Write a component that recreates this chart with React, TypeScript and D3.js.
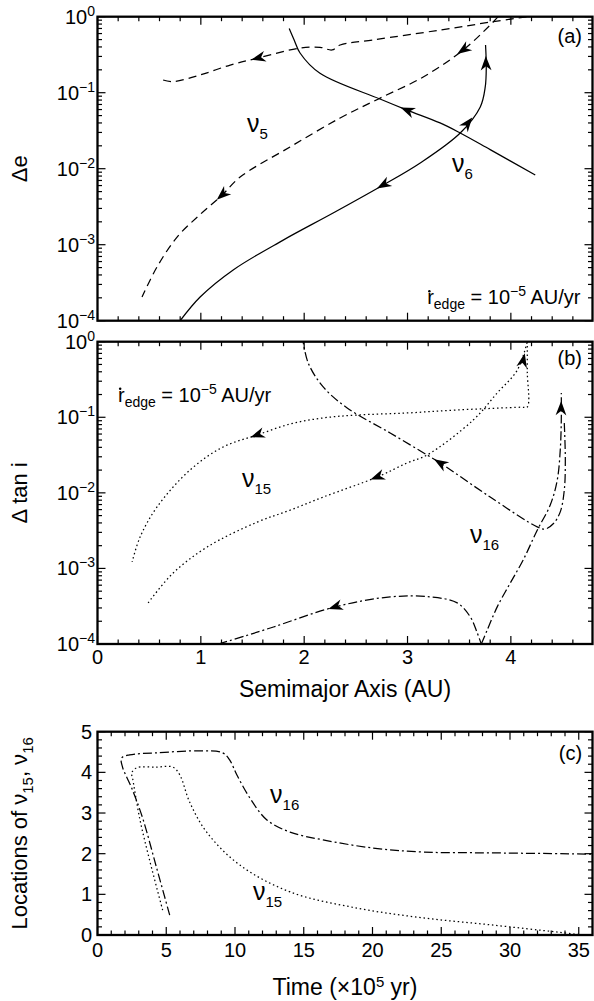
import React from 'react';
import * as d3 from 'd3';

// ---------------- DATA ----------------
// Panel (a): Δe vs semimajor axis (AU)
// ν5 (dashed) – upper branch
const nu5UpperX = [0.635, 0.732, 0.993, 1.284, 1.555, 1.96, 2.154, 2.27, 2.348, 2.668, 3.317, 3.83, 4.16];
const nu5UpperY = [0.147, 0.14, 0.171, 0.231, 0.286, 0.387, 0.396, 0.365, 0.424, 0.494, 0.668, 0.86, 1.0];
// ν5 (dashed) – descending branch
const nu5LowerX = [3.877, 3.8, 3.539, 3.152, 2.736, 2.348, 1.863, 1.38, 1.206, 0.993, 0.77, 0.576, 0.431];
const nu5LowerY = [1.0, 0.778, 0.365, 0.161, 0.085, 0.0465, 0.0193, 0.00776, 4.5e-3, 2.5e-3, 1.26e-3, 5.1e-4, 2.05e-4];
// ν6 (solid) – branch from top
const nu6TopX = [1.855, 1.903, 1.96, 2.153, 2.734, 2.996, 3.315, 3.51, 3.8, 4.236];
const nu6TopY = [0.7, 0.494, 0.333, 0.18, 0.0826, 0.059, 0.04, 0.0295, 0.0178, 0.00826];
// ν6 (solid) – rising branch
const nu6RiseX = [0.8, 0.993, 1.313, 1.797, 2.28, 2.765, 3.123, 3.51, 3.704, 3.752, 3.762, 3.755];
const nu6RiseY = [1e-4, 2.05e-4, 4.66e-4, 1.15e-3, 2.61e-3, 6.1e-3, 0.0119, 0.0295, 0.065, 0.119, 0.218, 0.424];

// Panel (b): Δ tan i vs semimajor axis (AU)
// ν15 (dotted)
const nu15BackX = [4.159, 4.159, 4.159, 4.1, 3.481, 2.997, 2.513, 2.184, 1.864, 1.545, 1.216, 0.896, 0.576, 0.412, 0.335];
const nu15BackY = [1.0, 0.4, 0.137, 0.136, 0.125, 0.114, 0.107, 0.098, 0.0815, 0.0583, 0.0405, 0.0201, 6.5e-3, 2.6e-3, 1.22e-3];
const nu15RiseX = [0.49, 0.732, 1.061, 1.545, 1.864, 2.184, 2.707, 2.997, 3.19, 3.636, 3.868, 4.062, 4.159];
const nu15RiseY = [3.5e-4, 8.7e-4, 1.92e-3, 4.1e-3, 5.9e-3, 8.8e-3, 0.0162, 0.0249, 0.0317, 0.092, 0.21, 0.42, 1.0];
// ν16 (dash-dot)
const nu16LowX = [1.17, 1.43, 1.703, 2.3, 2.832, 3.219, 3.481, 3.607, 3.675, 3.714];
const nu16LowY = [1e-4, 1.28e-4, 1.68e-4, 3.1e-4, 4.2e-4, 4.2e-4, 3.5e-4, 2.29e-4, 1.4e-4, 1e-4];
const nu16RiseX = [3.714, 3.772, 3.868, 3.994, 4.12, 4.255, 4.381, 4.449, 4.478, 4.488, 4.488];
const nu16RiseY = [1e-4, 1.54e-4, 3.1e-4, 6.4e-4, 1.3e-3, 3.2e-3, 6.9e-3, 0.0148, 0.037, 0.092, 0.209];
const nu16BackX = [4.517, 4.527, 4.517, 4.478, 4.41, 4.333, 4.255, 3.8, 3.316, 3.19, 2.832, 2.416, 2.184, 2.039, 1.99];
const nu16BackY = [0.084, 0.0273, 0.0109, 5.6e-3, 3.9e-3, 3.33e-3, 3.55e-3, 8.8e-3, 0.0249, 0.0317, 0.062, 0.133, 0.252, 0.523, 1.0];

// Panel (c): locations vs time (×10^5 yr)
const locNu16T = [5.25, 4.3, 3.28, 2.48, 1.82, 1.75, 2.33, 4.3, 7.43, 9.11, 9.62, 10.13, 11.08, 12.32, 14.0, 16.4, 20.0, 23.7, 28.6, 36.0];
const locNu16A = [0.49, 1.65, 2.88, 3.62, 4.13, 4.35, 4.43, 4.48, 4.53, 4.48, 4.3, 3.94, 3.37, 2.83, 2.53, 2.34, 2.14, 2.04, 2.02, 1.99];
const locNu15T = [4.74, 3.79, 3.06, 2.55, 2.48, 2.84, 4.3, 5.47, 5.98, 6.7, 7.94, 10.35, 14.0, 18.9, 23.7, 28.6, 33.5, 35.35];
const locNu15A = [0.61, 1.84, 2.88, 3.86, 3.98, 4.11, 4.13, 4.13, 3.94, 3.27, 2.53, 1.72, 1.06, 0.66, 0.42, 0.25, 0.07, 0.0];

// arrows: [x, y, towardX, towardY] in data units
const arrowsA = [
  [2.995, 0.059, 2.734, 0.0826],
  [2.763, 6.1e-3, 2.28, 2.61e-3],
  [3.585, 0.04, 3.704, 0.065],
  [3.759, 0.246, 3.755, 0.424],
  [1.553, 0.286, 1.284, 0.231],
  [3.537, 0.365, 3.152, 0.161],
  [1.205, 4.5e-3, 0.993, 2.5e-3],
];
const arrowsB = [
  [1.544, 0.0583, 1.216, 0.0405],
  [2.705, 0.0162, 2.184, 8.8e-3],
  [4.12, 0.573, 4.159, 1.0],
  [3.315, 0.0249, 2.832, 0.062],
  [4.486, 0.133, 4.488, 0.209],
  [2.298, 3.1e-4, 1.703, 1.68e-4],
];

// ticks
const logMajor = [1e-4, 1e-3, 1e-2, 1e-1, 1];
const logLabels = ['−4', '−3', '−2', '−1', '0'];
const auMajor = [0, 1, 2, 3, 4];
const timeMajor = [0, 5, 10, 15, 20, 25, 30, 35];
const locMajor = [0, 1, 2, 3, 4, 5];

// ---------------- LAYOUT ----------------
const W = 594, H = 1001;
const XL = 97.5, XR = 592.5;
const A_TOP = 16.7, A_BOT = 320.7;
const B_TOP = 341.7, B_BOT = 644;
const C_TOP = 731.7, C_BOT = 935;
const FONT = 'Liberation Sans, Arial, Helvetica, sans-serif';

const xAU = d3.scaleLinear().domain([0, 4.79]).range([XL, XR]);
const xT = d3.scaleLinear().domain([0, 36]).range([XL, XR]);
const yA = d3.scaleLog().domain([1e-4, 1]).range([A_BOT, A_TOP]);
const yB = d3.scaleLog().domain([1e-4, 1]).range([B_BOT, B_TOP]);
const yC = d3.scaleLinear().domain([0, 5]).range([C_BOT, C_TOP]);

const DASHED = '8,5';
const DOTTED = '1.5,2.8';
const DASHDOT = '9,3,2,3';

function curvePath(xs: number[], ys: number[], sx: any, sy: any) {
  const pts: [number, number][] = xs.map((x, i) => [sx(x), sy(ys[i])]);
  return d3.line().curve(d3.curveCatmullRom.alpha(0.5))(pts) || '';
}

function Arrow({ a, sx, sy }: any) {
  const px = sx(a[0]), py = sy(a[1]);
  const qx = sx(a[2]), qy = sy(a[3]);
  const ang = (Math.atan2(qy - py, qx - px) * 180) / Math.PI;
  return (
    <path
      d="M7,0 L-7.5,-5.4 L-3.2,0 L-7.5,5.4 Z"
      fill="#000"
      stroke="none"
      transform={`translate(${px},${py}) rotate(${ang})`}
    />
  );
}

function logMinor() {
  const out: number[] = [];
  for (let k = -4; k < 0; k++) for (let m = 2; m <= 9; m++) out.push(m * Math.pow(10, k));
  return out;
}

function FrameTicks({ top, bot, xs, xMajor, xMinor, ys, yMajor, yMinor }: any) {
  const lines: any[] = [];
  const MJ = 8, MN = 4.5;
  xMajor.forEach((v: number, i: number) => {
    const x = xs(v);
    lines.push(<line key={'xb' + i} x1={x} x2={x} y1={bot} y2={bot - MJ} />);
    lines.push(<line key={'xt' + i} x1={x} x2={x} y1={top} y2={top + MJ} />);
  });
  xMinor.forEach((v: number, i: number) => {
    const x = xs(v);
    lines.push(<line key={'xbm' + i} x1={x} x2={x} y1={bot} y2={bot - MN} />);
    lines.push(<line key={'xtm' + i} x1={x} x2={x} y1={top} y2={top + MN} />);
  });
  yMajor.forEach((v: number, i: number) => {
    const y = ys(v);
    lines.push(<line key={'yl' + i} x1={XL} x2={XL + MJ} y1={y} y2={y} />);
    lines.push(<line key={'yr' + i} x1={XR} x2={XR - MJ} y1={y} y2={y} />);
  });
  yMinor.forEach((v: number, i: number) => {
    const y = ys(v);
    lines.push(<line key={'ylm' + i} x1={XL} x2={XL + MN} y1={y} y2={y} />);
    lines.push(<line key={'yrm' + i} x1={XR} x2={XR - MN} y1={y} y2={y} />);
  });
  return (
    <g>
      <g stroke="#000" strokeWidth={1.2}>{lines}</g>
      <rect x={XL} y={top} width={XR - XL} height={bot - top} fill="none" stroke="#000" strokeWidth={2.3} />
    </g>
  );
}

function LogLabels({ sy }: any) {
  return (
    <g fontFamily={FONT} fontSize={20} textAnchor="end">
      {logMajor.map((v, i) => (
        <text key={i} x={95} y={sy(v) + 7}>
          10<tspan dy={-8} fontSize={14}>{logLabels[i]}</tspan>
        </text>
      ))}
    </g>
  );
}

function Nu({ x, y, sub }: any) {
  return (
    <text x={x} y={y} fontFamily={FONT} fontSize={25}>
      ν<tspan dy={7} fontSize={15}>{sub}</tspan>
    </text>
  );
}

function Redge({ x, y }: any) {
  return (
    <g fontFamily={FONT}>
      <text x={x} y={y} fontSize={20}>
        r<tspan dy={5} fontSize={14}>edge</tspan>
        <tspan dy={-5}> = 10</tspan>
        <tspan dy={-8} fontSize={14}>−5</tspan>
        <tspan dy={8}> AU/yr</tspan>
      </text>
      <circle cx={x + 2.2} cy={y - 12.8} r={1.25} fill="#000" />
    </g>
  );
}

export default function App() {
  const auMinor = d3.range(0, 4.79, 0.2).filter((v) => Math.abs(v - Math.round(v)) > 1e-6);
  const tMinor = d3.range(1, 36, 1).filter((v) => v % 5 !== 0);
  const locMinor = d3.range(0.2, 5, 0.2).filter((v) => Math.abs(v - Math.round(v)) > 1e-6);
  const lm = logMinor();

  const sw = 1.25;
  return (
    <div style={{ position: 'absolute', left: 0, top: 0 }}>
      <svg width={W} height={H} viewBox={`0 0 ${W} ${H}`} style={{ display: 'block', background: '#fff' }}>
        <defs>
          <clipPath id="clipA"><rect x={XL} y={A_TOP} width={XR - XL} height={A_BOT - A_TOP} /></clipPath>
          <clipPath id="clipB"><rect x={XL} y={B_TOP} width={XR - XL} height={B_BOT - B_TOP} /></clipPath>
          <clipPath id="clipC"><rect x={XL} y={C_TOP} width={XR - XL} height={C_BOT - C_TOP} /></clipPath>
        </defs>
        <rect x={0} y={0} width={W} height={H} fill="#fff" />

        {/* ---------- Panel (a) ---------- */}
        <g clipPath="url(#clipA)" fill="none" stroke="#000" strokeWidth={sw}>
          <path d={curvePath(nu5UpperX, nu5UpperY, xAU, yA)} strokeDasharray={DASHED} />
          <path d={curvePath(nu5LowerX, nu5LowerY, xAU, yA)} strokeDasharray={DASHED} />
          <path d={curvePath(nu6TopX, nu6TopY, xAU, yA)} />
          <path d={curvePath(nu6RiseX, nu6RiseY, xAU, yA)} />
        </g>
        {arrowsA.map((a, i) => <Arrow key={i} a={a} sx={xAU} sy={yA} />)}
        <FrameTicks top={A_TOP} bot={A_BOT} xs={xAU} xMajor={auMajor} xMinor={auMinor} ys={yA} yMajor={logMajor} yMinor={lm} />
        <LogLabels sy={yA} />
        <Nu x={xAU(1.447)} y={yA(0.0304)} sub="5" />
        <Nu x={xAU(3.43)} y={yA(0.00905)} sub="6" />
        <Redge x={xAU(3.19)} y={yA(1.66e-4)} />
        <text x={xAU(4.688)} y={yA(0.451)} fontFamily={FONT} fontSize={20} textAnchor="end">(a)</text>
        <text transform={`translate(27,${(A_TOP + A_BOT) / 2}) rotate(-90)`} fontFamily={FONT} fontSize={22} textAnchor="middle">Δe</text>

        {/* ---------- Panel (b) ---------- */}
        <g clipPath="url(#clipB)" fill="none" stroke="#000" strokeWidth={sw}>
          <path d={curvePath(nu15BackX, nu15BackY, xAU, yB)} strokeDasharray={DOTTED} />
          <path d={curvePath(nu15RiseX, nu15RiseY, xAU, yB)} strokeDasharray={DOTTED} />
          <path d={curvePath(nu16LowX, nu16LowY, xAU, yB)} strokeDasharray={DASHDOT} />
          <path d={curvePath(nu16RiseX, nu16RiseY, xAU, yB)} strokeDasharray={DASHDOT} />
          <path d={curvePath(nu16BackX, nu16BackY, xAU, yB)} strokeDasharray={DASHDOT} />
        </g>
        {arrowsB.map((a, i) => <Arrow key={i} a={a} sx={xAU} sy={yB} />)}
        <FrameTicks top={B_TOP} bot={B_BOT} xs={xAU} xMajor={auMajor} xMinor={auMinor} ys={yB} yMajor={logMajor} yMinor={lm} />
        <LogLabels sy={yB} />
        <g fontFamily={FONT} fontSize={20} textAnchor="middle">
          {auMajor.map((v) => <text key={v} x={xAU(v)} y={664}>{v}</text>)}
        </g>
        <Nu x={xAU(1.398)} y={yB(0.01197)} sub="15" />
        <Nu x={xAU(3.605)} y={yB(2.17e-3)} sub="16" />
        <Redge x={xAU(0.198)} y={yB(0.161)} />
        <text x={xAU(4.688)} y={yB(0.492)} fontFamily={FONT} fontSize={20} textAnchor="end">(b)</text>
        <text transform={`translate(27,${(B_TOP + B_BOT) / 2}) rotate(-90)`} fontFamily={FONT} fontSize={22} textAnchor="middle">Δ tan i</text>
        <text x={(XL + XR) / 2} y={697} fontFamily={FONT} fontSize={23} textAnchor="middle">Semimajor Axis (AU)</text>

        {/* ---------- Panel (c) ---------- */}
        <g clipPath="url(#clipC)" fill="none" stroke="#000" strokeWidth={sw}>
          <path d={curvePath(locNu16T, locNu16A, xT, yC)} strokeDasharray={DASHDOT} />
          <path d={curvePath(locNu15T, locNu15A, xT, yC)} strokeDasharray={DOTTED} />
        </g>
        <FrameTicks top={C_TOP} bot={C_BOT} xs={xT} xMajor={timeMajor} xMinor={tMinor} ys={yC} yMajor={locMajor} yMinor={locMinor} />
        <g fontFamily={FONT} fontSize={20} textAnchor="end">
          {locMajor.map((v) => <text key={v} x={92} y={yC(v) + 7}>{v}</text>)}
        </g>
        <g fontFamily={FONT} fontSize={20} textAnchor="middle">
          {timeMajor.map((v) => <text key={v} x={xT(v)} y={957}>{v}</text>)}
        </g>
        <Nu x={xT(12.55)} y={yC(3.25)} sub="16" />
        <Nu x={xT(11.31)} y={yC(0.86)} sub="15" />
        <text x={xT(35.24)} y={yC(4.3)} fontFamily={FONT} fontSize={20} textAnchor="end">(c)</text>
        <text transform={`translate(27,${(C_TOP + C_BOT) / 2}) rotate(-90)`} fontFamily={FONT} fontSize={22} textAnchor="middle">
          Locations of ν<tspan dy={6} fontSize={15}>15</tspan><tspan dy={-6}>, ν</tspan><tspan dy={6} fontSize={15}>16</tspan>
        </text>
        <text x={(XL + XR) / 2} y={995} fontFamily={FONT} fontSize={23} textAnchor="middle">
          Time (×10<tspan dy={-8} fontSize={15}>5</tspan><tspan dy={8}> yr)</tspan>
        </text>
      </svg>
    </div>
  );
}
